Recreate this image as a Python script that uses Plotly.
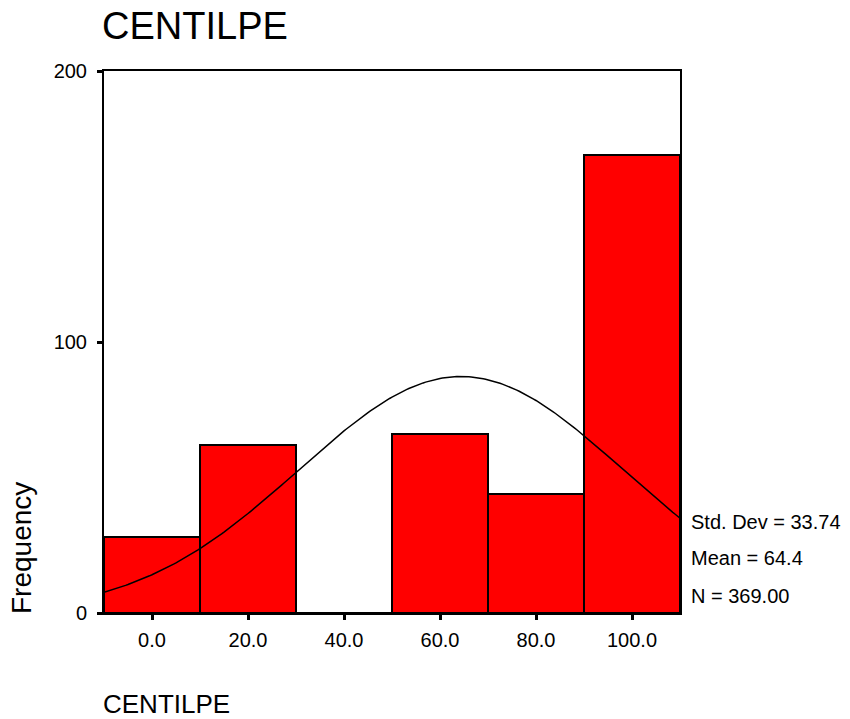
import numpy as np
import plotly.graph_objects as go

# Histogram of CENTILPE (bin width 20)
bin_centers = [0, 20, 40, 60, 80, 100]
frequencies = [28, 62, 0, 66, 44, 169]
x_tick_vals = [0, 20, 40, 60, 80, 100]
x_tick_text = ["0.0", "20.0", "40.0", "60.0", "80.0", "100.0"]
y_tick_vals = [0, 100, 200]
y_tick_text = ["0", "100", "200"]

# Summary statistics
std_dev = 33.74
mean = 64.4
n_cases = 369.00
bin_width = 20

# Fitted normal curve scaled to histogram counts
curve_x = np.linspace(-10, 110, 241)
curve_y = n_cases * bin_width / (std_dev * np.sqrt(2 * np.pi)) * np.exp(
    -0.5 * ((curve_x - mean) / std_dev) ** 2
)

FONT = "Arial, Liberation Sans, sans-serif"
W, H = 850, 719
L, R, T, B = 104, 170, 71, 106
PW, PH = W - L - R, H - T - B


def px(x):
    return (x - L) / PW


def py(y):
    return (H - B - y) / PH


fig = go.Figure()
fig.add_trace(go.Bar(
    x=bin_centers, y=frequencies, width=bin_width,
    marker=dict(color="#FF0000", line=dict(color="black", width=2)),
    hoverinfo="x+y", showlegend=False,
))
fig.add_trace(go.Scatter(
    x=curve_x, y=curve_y, mode="lines",
    line=dict(color="black", width=1.5), showlegend=False, hoverinfo="skip",
))

fig.update_layout(
    width=W, height=H,
    margin=dict(l=L, r=R, t=T, b=B),
    paper_bgcolor="white", plot_bgcolor="white",
    font=dict(family=FONT, color="black"),
    bargap=0,
    title=dict(text="CENTILPE", x=102 / W, xanchor="left", xref="container",
               y=1 - 26 / H, yanchor="middle", yref="container",
               font=dict(size=38, family=FONT, color="black")),
    xaxis=dict(range=[-10, 110], tickvals=x_tick_vals, ticktext=x_tick_text,
               showgrid=False, zeroline=False, showline=True, linecolor="black",
               linewidth=2, mirror=True, ticks="outside", ticklen=5,
               tickwidth=3, tickcolor="black", ticklabelstandoff=3,
               tickfont=dict(size=20, family=FONT, color="black")),
    yaxis=dict(range=[0, 200], tickvals=y_tick_vals, ticktext=y_tick_text,
               showgrid=False, zeroline=False, showline=True, linecolor="black",
               linewidth=2, mirror=True, ticks="outside", ticklen=5,
               tickwidth=3, tickcolor="black", ticklabelstandoff=6,
               tickfont=dict(size=20, family=FONT, color="black")),
    annotations=[
        dict(text="Frequency", x=px(21), y=py(548), xref="paper",
             yref="paper", textangle=-90, showarrow=False,
             xanchor="center", yanchor="middle",
             font=dict(size=28, family=FONT, color="black")),
        dict(text="CENTILPE", x=px(101), y=py(704), xref="paper",
             yref="paper", showarrow=False, xanchor="left", yanchor="middle",
             font=dict(size=26, family=FONT, color="black")),
        dict(text=f"Std. Dev = {std_dev:.2f}", x=px(689), y=py(522),
             xref="paper", yref="paper", showarrow=False, xanchor="left",
             yanchor="middle", font=dict(size=20, family=FONT, color="black")),
        dict(text=f"Mean = {mean:.1f}", x=px(689), y=py(558),
             xref="paper", yref="paper", showarrow=False, xanchor="left",
             yanchor="middle", font=dict(size=20, family=FONT, color="black")),
        dict(text=f"N = {n_cases:.2f}", x=px(689), y=py(596),
             xref="paper", yref="paper", showarrow=False, xanchor="left",
             yanchor="middle", font=dict(size=20, family=FONT, color="black")),
    ],
)

fig.write_html("out.html")
